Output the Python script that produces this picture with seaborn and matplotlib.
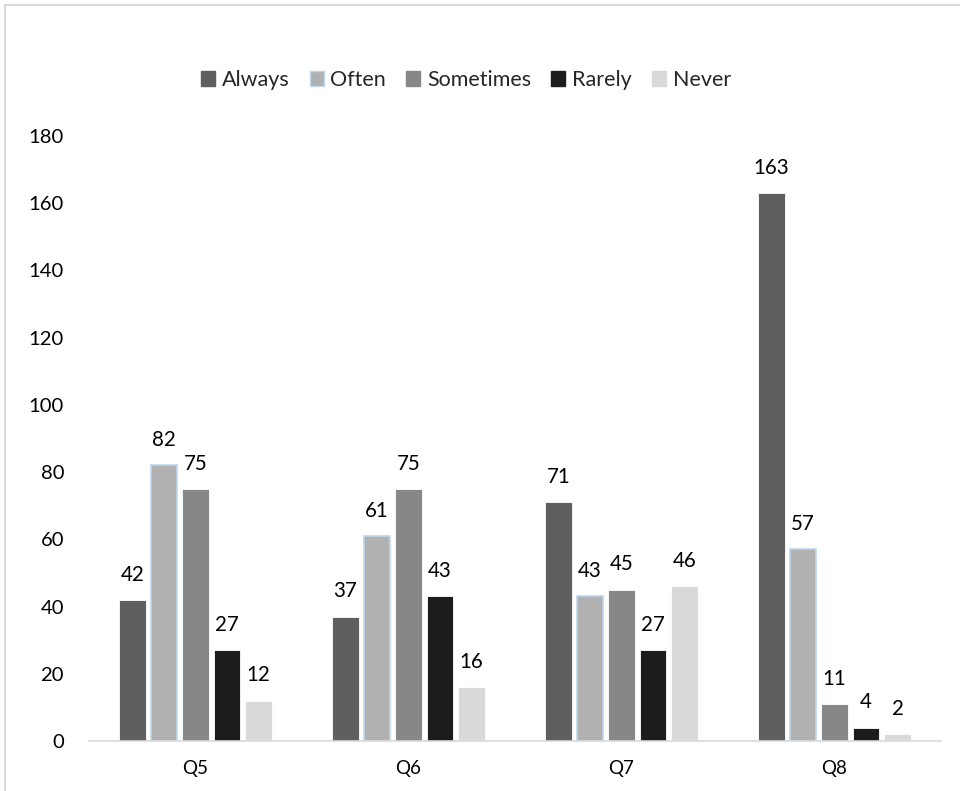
import matplotlib
matplotlib.use("Agg")
import matplotlib.pyplot as plt
from matplotlib.patches import Patch, Rectangle
import seaborn as sns
import pandas as pd

questions = ["Q5", "Q6", "Q7", "Q8"]
responses = ["Always", "Often", "Sometimes", "Rarely", "Never"]
always = [42, 37, 71, 163]
often = [82, 61, 43, 57]
sometimes = [75, 75, 45, 11]
rarely = [27, 43, 27, 4]
never = [12, 16, 46, 2]
y_ticks = [0, 20, 40, 60, 80, 100, 120, 140, 160, 180]

colors = ["#5f5f5f", "#b1b1b1", "#878787", "#1c1c1c", "#d9d9d9"]
edge_colors = ["white", "#bdd7ee", "white", "white", "white"]

series = [always, often, sometimes, rarely, never]
rows = []
for resp, vals in zip(responses, series):
    for q, v in zip(questions, vals):
        rows.append({"question": q, "response": resp, "count": v})
df = pd.DataFrame(rows)

sns.set_style("white")
plt.rcParams["font.family"] = ["Lato", "DejaVu Sans"]

fig = plt.figure(figsize=(9.6, 7.91), dpi=100)
ax = fig.add_axes([89 / 960, 1 - 741 / 791, (941 - 89) / 960, (741 - 136) / 791])

sns.barplot(data=df, x="question", y="count", hue="response",
            order=questions, hue_order=responses, palette=colors,
            width=0.74, gap=0.17, ax=ax, legend=False)

for cont, ec in zip(ax.containers, edge_colors):
    for bar in cont:
        bar.set_edgecolor(ec)
        bar.set_linewidth(1.2 if ec != "white" else 0.6)
    ax.bar_label(cont, padding=11, fontsize=14.8, color="#000000")

ax.set_ylim(0, 180)
ax.set_yticks(y_ticks)
ax.set_xlim(-0.5, 3.5)
ax.set_xlabel("")
ax.set_ylabel("")
for s in ["left", "right", "top"]:
    ax.spines[s].set_visible(False)
ax.spines["bottom"].set_color("#d9d9d9")
ax.spines["bottom"].set_linewidth(1.2)
ax.tick_params(axis="y", length=0, pad=18, labelsize=14.6, labelcolor="#000000")
ax.tick_params(axis="x", which="major", length=0, pad=14, labelsize=13.5, labelcolor="#000000")
ax.set_xticks([-0.5, 0.5, 1.5, 2.5, 3.5], minor=True)
ax.tick_params(axis="x", which="minor", length=6, width=1.2, color="#d9d9d9")

handles = [Patch(facecolor=c, edgecolor=("#bdd7ee" if e != "white" else c), linewidth=1)
           for c, e in zip(colors, edge_colors)]
fig.legend(handles, responses, loc="center", bbox_to_anchor=(466 / 960, 1 - 80 / 791),
           ncol=5, frameon=False, fontsize=15.5, handlelength=0.65, handleheight=0.65,
           handletextpad=0.3, columnspacing=0.95)

fig.patches.append(Rectangle((5 / 960, -0.1), 1.2, 1 - 5 / 791 + 0.1,
                             transform=fig.transFigure, fill=False,
                             edgecolor="#d9d9d9", linewidth=1.5))

fig.savefig("out.png", dpi=100, facecolor="white")
